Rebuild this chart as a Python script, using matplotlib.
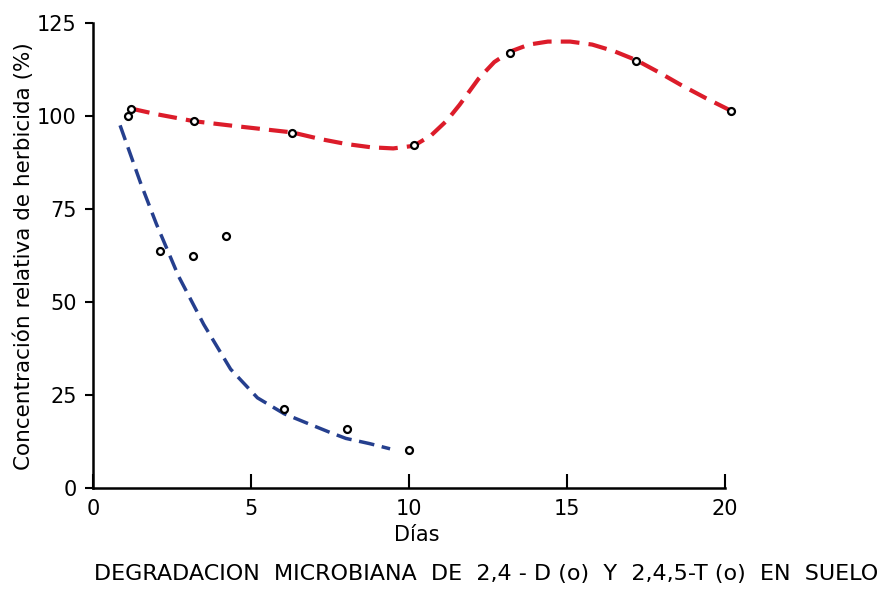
# Degradacion microbiana de 2,4-D y 2,4,5-T en suelo

import numpy as np
import matplotlib.pyplot as plt

# Puntos medidos, 2,4,5-T (curva roja)
dias_t = np.array([1.2, 3.2, 6.3, 10.15, 13.2, 17.2, 20.2])
conc_t = np.array([102, 98.6, 95.5, 92.2, 117, 114.7, 101.4])

# Puntos medidos, 2,4-D (curva azul)
dias_d = np.array([1.1, 2.1, 3.15, 4.2, 6.05, 8.05, 10.0])
conc_d = np.array([100, 63.8, 62.3, 67.8, 21.4, 15.8, 10.2])

# Trazo de las curvas dibujadas a mano
curva_t_x = np.array([1.2, 2.0, 3.2, 4.5, 6.3, 7.2, 8.0, 8.8, 9.5, 10.15,
                      10.7, 11.2, 11.6, 12.2, 12.7, 13.2, 13.8, 14.4, 15.1,
                      15.8, 16.5, 17.2, 17.9, 18.6, 19.4, 20.2])
curva_t_y = np.array([102, 100.5, 98.6, 97.3, 95.6, 93.8, 92.5, 91.6, 91.3, 92.0,
                      94.8, 98.8, 103, 110, 114.5, 117.3, 119.2, 120, 120,
                      119.2, 117.4, 115, 111.8, 108.4, 104.8, 101.4])

curva_d_x = np.array([0.85, 1.5, 2.0, 2.7, 3.5, 4.35, 5.2, 6.05, 6.8, 7.5,
                      8.0, 8.75, 9.4])
curva_d_y = np.array([97.5, 82, 71, 57, 44, 32, 24.3, 20.0, 17.4, 15.0,
                      13.4, 12.0, 10.6])

fig = plt.figure(figsize=(8.88, 5.89), dpi=100)
ax = fig.add_axes([0.105, 0.171, 0.729, 0.79])

ax.plot(curva_t_x, curva_t_y, color="#dc1c2a", lw=3, dashes=(4.5, 2.2),
        dash_capstyle="butt")
ax.plot(curva_d_x, curva_d_y, color="#253f8e", lw=2.5, dashes=(4.5, 2.2),
        dash_capstyle="butt")

ax.plot(dias_t, conc_t, "o", ms=5, mfc="white", mec="black", mew=1.6)
ax.plot(dias_d, conc_d, "o", ms=5, mfc="white", mec="black", mew=1.6)

ax.set_xlim(0, 20.5)
ax.set_ylim(0, 125)
ax.set_xticks([0, 5, 10, 15, 20])
ax.set_yticks([0, 25, 50, 75, 100, 125])

for s in ["top", "right"]:
    ax.spines[s].set_visible(False)
ax.spines["bottom"].set_bounds(0, 20)
ax.spines["left"].set_linewidth(1.8)
ax.spines["bottom"].set_linewidth(1.8)

ax.tick_params(axis="x", direction="in", length=10, width=1.5, pad=8, labelsize=15)
ax.tick_params(axis="y", direction="out", length=6, width=1.5, pad=6, labelsize=15)

ax.set_xlabel("Días", fontsize=15, labelpad=4)
ax.set_ylabel("Concentración relativa de herbicida (%)", fontsize=15.5, labelpad=2)

fig.text(0.547, 0.025, "DEGRADACION  MICROBIANA  DE  2,4 - D (o)  Y  2,4,5-T (o)  EN  SUELO",
         ha="center", va="center", fontsize=16)

fig.savefig("out.png", dpi=100)
